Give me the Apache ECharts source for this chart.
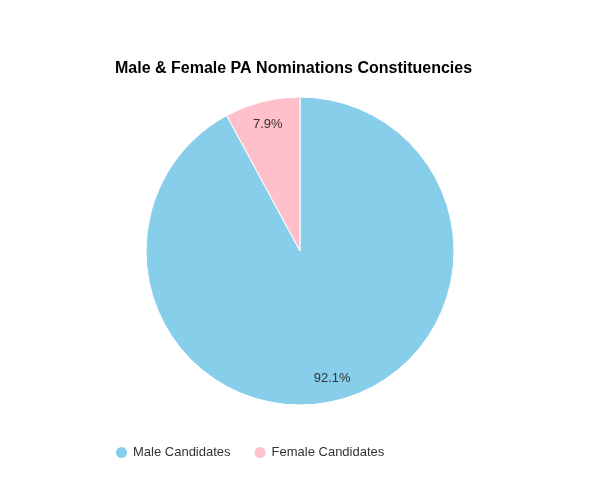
<!DOCTYPE html>
<html>
<head>
<meta charset="utf-8">
<script src="https://cdn.jsdelivr.net/npm/echarts@6/dist/echarts.min.js"></script>
<style>html,body{margin:0;padding:0;background:#fff}#c{width:600px;height:500px}</style>
</head>
<body>
<div id="c"></div>
<script>
var categories = ['Male Candidates', 'Female Candidates'];
var percentages = [92.1, 7.9];
var colors = ['#87CEEB', '#FFC0CB'];

var pieData = categories.map(function (n, i) {
  return { name: n, value: percentages[i], itemStyle: { color: colors[i] } };
});

var chart = echarts.init(document.getElementById('c'));
chart.setOption({
  animation: false,
  title: {
    text: 'Male & Female PA Nominations Constituencies',
    left: 110,
    top: 56,
    textStyle: { fontFamily: 'Liberation Sans, Arial, sans-serif', fontSize: 16, fontWeight: 'bold', color: '#000' }
  },
  legend: {
    data: categories,
    left: 109,
    top: 440,
    icon: 'circle',
    itemWidth: 13,
    itemHeight: 13,
    itemGap: 22,
    textStyle: { fontFamily: 'Liberation Sans, Arial, sans-serif', fontSize: 13, color: '#333' }
  },
  series: [
    {
      type: 'pie',
      center: [300, 251],
      radius: [0, 154],
      startAngle: 90,
      clockwise: true,
      data: pieData,
      itemStyle: { borderColor: '#fff', borderWidth: 1 },
      label: { show: false },
      labelLine: { show: false },
      emphasis: { disabled: true }
    },
    {
      type: 'pie',
      center: [300, 251],
      radius: [102, 154],
      startAngle: 90,
      clockwise: true,
      silent: true,
      data: pieData.map(function (d) { return { name: d.name, value: d.value, itemStyle: { color: 'rgba(0,0,0,0)' } }; }),
      itemStyle: { borderWidth: 0 },
      label: {
        show: true,
        position: 'inside',
        formatter: function (p) { return p.value.toFixed(1) + '%'; },
        fontFamily: 'Liberation Sans, Arial, sans-serif',
        fontSize: 13,
        color: '#333'
      },
      labelLine: { show: false }
    }
  ]
});
</script>
</body>
</html>
